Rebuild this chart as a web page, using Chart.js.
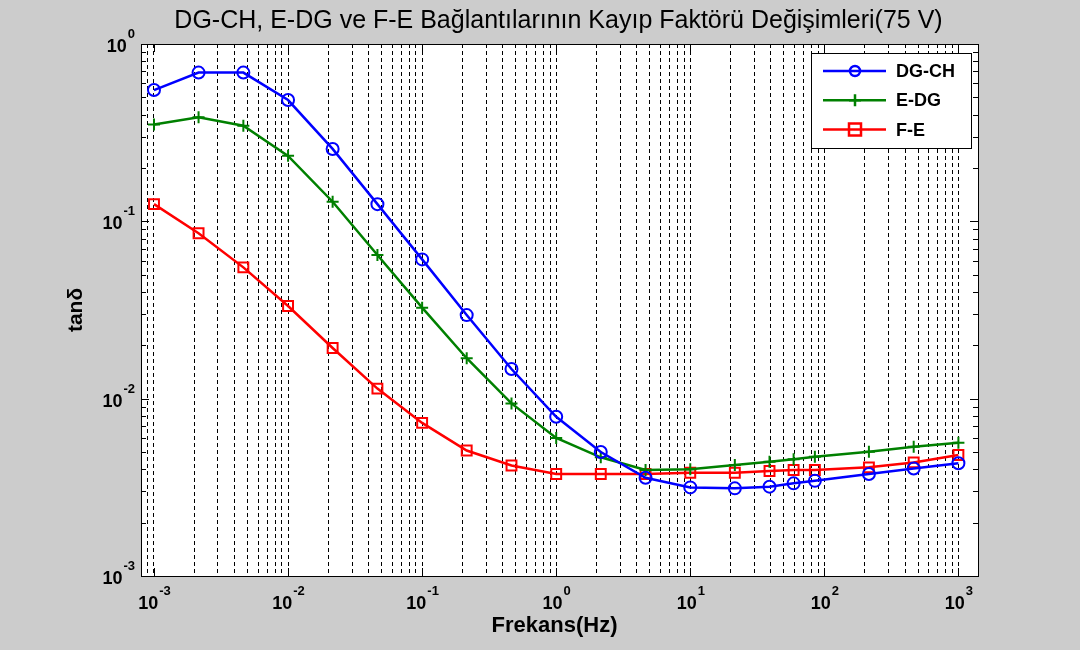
<!DOCTYPE html>
<html>
<head>
<meta charset="utf-8">
<script src="https://cdn.jsdelivr.net/npm/chart.js@4.4.1/dist/chart.umd.min.js"></script>
<style>
  html, body { margin: 0; padding: 0; background: #cccccc; }
  #wrap { width: 1080px; height: 650px; }
</style>
</head>
<body>
<div id="wrap"><canvas id="kayip" width="1080" height="650"></canvas></div>
<script>
// frequencies (Hz) and loss factor (tan delta)
const frekans = [0.001, 0.00215, 0.00464, 0.01, 0.0215, 0.0464, 0.1, 0.215, 0.464, 1, 2.15, 4.64, 10, 21.5, 39, 59, 85, 215, 464, 1000];
const dgCh = [0.55, 0.69, 0.69, 0.483, 0.256, 0.125, 0.061, 0.0296, 0.0147, 0.0079, 0.0050, 0.00358, 0.00316, 0.00312, 0.00319, 0.00333, 0.00344, 0.00376, 0.00404, 0.00432];
const eDg = [0.352, 0.386, 0.346, 0.234, 0.129, 0.0646, 0.0326, 0.0169, 0.0094, 0.0060, 0.00467, 0.00396, 0.0040, 0.00422, 0.00441, 0.00456, 0.0047, 0.00502, 0.00535, 0.00564];
const fE = [0.125, 0.0856, 0.055, 0.0333, 0.0193, 0.0114, 0.0073, 0.0051, 0.0042, 0.00376, 0.00376, 0.00376, 0.00382, 0.00382, 0.00391, 0.00396, 0.00396, 0.0041, 0.00437, 0.00481];

const xExponents = [-3, -2, -1, 0, 1, 2, 3];
const yExponents = [-3, -2, -1, 0];
const xMin = 0.0008, xMax = 1400;
const yMin = 0.001, yMax = 1;

const titleText = 'DG-CH, E-DG ve F-E Bağlantılarının Kayıp Faktörü Değişimleri(75 V)';
const xTitle = 'Frekans(Hz)';
const yTitle = 'tanδ';

const FONT = 'Arial, "Liberation Sans", sans-serif';

// all k*10^n values inside [min, max] -> grid / tick positions
function logSteps(min, max) {
  const out = [];
  for (let e = Math.floor(Math.log10(min)); e <= Math.ceil(Math.log10(max)); e++) {
    for (let k = 1; k <= 9; k++) {
      const v = +(k * Math.pow(10, e)).toPrecision(6);
      if (v > min * 1.0001 && v < max * 0.9999) out.push(v);
    }
  }
  return out;
}
const xSteps = logSteps(xMin, xMax);
const ySteps = logSteps(yMin, yMax).concat([yMin, yMax]);

function pts(ys) {
  return frekans.map((f, i) => ({ x: f, y: ys[i] }));
}

function drawPow(ctx, exp, x, y, align) {
  const base = '10', sup = String(exp);
  ctx.font = 'bold 18px ' + FONT;
  const wb = ctx.measureText(base).width;
  ctx.font = 'bold 13px ' + FONT;
  const ws = ctx.measureText(sup).width;
  let left = align === 'center' ? x - (wb + ws) / 2 : x - wb - ws;
  ctx.textAlign = 'left';
  ctx.textBaseline = 'alphabetic';
  ctx.font = 'bold 18px ' + FONT;
  ctx.fillText(base, left, y);
  ctx.font = 'bold 13px ' + FONT;
  ctx.fillText(sup, left + wb + 1, y - 14);
}

const matlabLook = {
  id: 'matlabLook',
  beforeDraw(chart) {
    const { ctx, chartArea: a } = chart;
    ctx.save();
    ctx.fillStyle = '#cccccc';
    ctx.fillRect(0, 0, chart.width, chart.height);
    ctx.fillStyle = '#ffffff';
    ctx.fillRect(a.left, a.top, a.right - a.left, a.bottom - a.top);
    ctx.restore();
  },
  afterDraw(chart) {
    const { ctx, chartArea: a } = chart;
    const xs = chart.scales.x, ys = chart.scales.y;
    ctx.save();

    // tick marks, inward on all four sides
    ctx.strokeStyle = '#000';
    ctx.lineWidth = 1;
    ctx.setLineDash([]);
    ySteps.forEach(v => {
      const y = Math.round(ys.getPixelForValue(v)) + 0.5;
      const len = Math.abs(Math.log10(v) - Math.round(Math.log10(v))) < 1e-6 ? 8 : 5;
      ctx.beginPath();
      ctx.moveTo(a.left, y); ctx.lineTo(a.left + len, y);
      ctx.moveTo(a.right, y); ctx.lineTo(a.right - len, y);
      ctx.stroke();
    });
    xExponents.forEach(e => {
      const x = Math.round(xs.getPixelForValue(Math.pow(10, e))) + 0.5;
      ctx.beginPath();
      ctx.moveTo(x, a.bottom); ctx.lineTo(x, a.bottom - 8);
      ctx.moveTo(x, a.top); ctx.lineTo(x, a.top + 8);
      ctx.stroke();
    });

    // axes frame
    ctx.strokeRect(Math.round(a.left) + 0.5, Math.round(a.top) + 0.5,
      Math.round(a.right - a.left), Math.round(a.bottom - a.top));

    // tick labels
    ctx.fillStyle = '#000';
    xExponents.forEach(e => {
      drawPow(ctx, e, xs.getPixelForValue(Math.pow(10, e)), a.bottom + 33, 'center');
    });
    yExponents.forEach(e => {
      drawPow(ctx, e, a.left - 7, ys.getPixelForValue(Math.pow(10, e)) + 8, 'right');
    });

    // title and axis titles
    ctx.textAlign = 'center';
    ctx.textBaseline = 'alphabetic';
    ctx.font = '25px ' + FONT;
    ctx.fillText(titleText, (a.left + a.right) / 2 - 1, 28);
    ctx.font = 'bold 22px ' + FONT;
    ctx.fillText(xTitle, (a.left + a.right) / 2 - 5, 632);
    ctx.save();
    ctx.translate(82, (a.top + a.bottom) / 2);
    ctx.rotate(-Math.PI / 2);
    ctx.font = 'bold 21px ' + FONT;
    ctx.fillText(yTitle, 0, 0);
    ctx.restore();

    // legend box
    const lx = a.right - 167, ly = a.top + 9, lw = 160, lh = 95;
    ctx.fillStyle = '#fff';
    ctx.fillRect(lx, ly, lw, lh);
    ctx.strokeRect(lx + 0.5, ly + 0.5, lw, lh);
    chart.data.datasets.forEach((ds, i) => {
      const y = ly + 18 + i * 29.3;
      const x0 = lx + 12, x1 = lx + 75, mx = lx + 44;
      ctx.strokeStyle = ds.borderColor;
      ctx.lineWidth = 2.5;
      ctx.beginPath(); ctx.moveTo(x0, y); ctx.lineTo(x1, y); ctx.stroke();
      ctx.beginPath();
      if (ds.pointStyle === 'circle') {
        ctx.arc(mx, y, 5, 0, Math.PI * 2);
      } else if (ds.pointStyle === 'rect') {
        ctx.rect(mx - 6, y - 6, 12, 12);
      } else {
        ctx.moveTo(mx, y - 6); ctx.lineTo(mx, y + 6);
        ctx.moveTo(mx - 6, y); ctx.lineTo(mx + 6, y);
      }
      ctx.stroke();
      ctx.fillStyle = '#000';
      ctx.font = 'bold 18px ' + FONT;
      ctx.textAlign = 'left';
      ctx.textBaseline = 'middle';
      ctx.fillText(ds.label, lx + 85, y + 1);
    });
    ctx.restore();
  }
};

const lineCommon = {
  borderWidth: 2.5,
  pointBorderWidth: 2,
  pointBackgroundColor: 'rgba(0,0,0,0)',
  fill: false,
  tension: 0
};

new Chart(document.getElementById('kayip'), {
  type: 'line',
  data: {
    datasets: [
      Object.assign({ label: 'DG-CH', data: pts(dgCh), borderColor: '#0000ff', pointStyle: 'circle', pointRadius: 6 }, lineCommon),
      Object.assign({ label: 'E-DG', data: pts(eDg), borderColor: '#008000', pointStyle: 'cross', pointRadius: 6 }, lineCommon),
      Object.assign({ label: 'F-E', data: pts(fE), borderColor: '#ff0000', pointStyle: 'rect', pointRadius: 7 }, lineCommon)
    ]
  },
  options: {
    responsive: false,
    animation: false,
    layout: { padding: { top: 44, right: 102, left: 0, bottom: 0 } },
    plugins: {
      legend: { display: false },
      title: { display: false },
      tooltip: { enabled: false }
    },
    scales: {
      x: {
        type: 'logarithmic',
        min: xMin,
        max: xMax,
        afterBuildTicks: s => { s.ticks = xSteps.map(v => ({ value: v })); },
        afterFit: s => { s.height = 74; },
        ticks: { display: false, autoSkip: false },
        grid: { color: '#000', lineWidth: 1, drawTicks: false },
        border: { display: false, dash: [4, 3] }
      },
      y: {
        type: 'logarithmic',
        min: yMin,
        max: yMax,
        afterFit: s => { s.width = 141; },
        ticks: { display: false },
        grid: { display: false },
        border: { display: false }
      }
    }
  },
  plugins: [matlabLook]
});
</script>
</body>
</html>
